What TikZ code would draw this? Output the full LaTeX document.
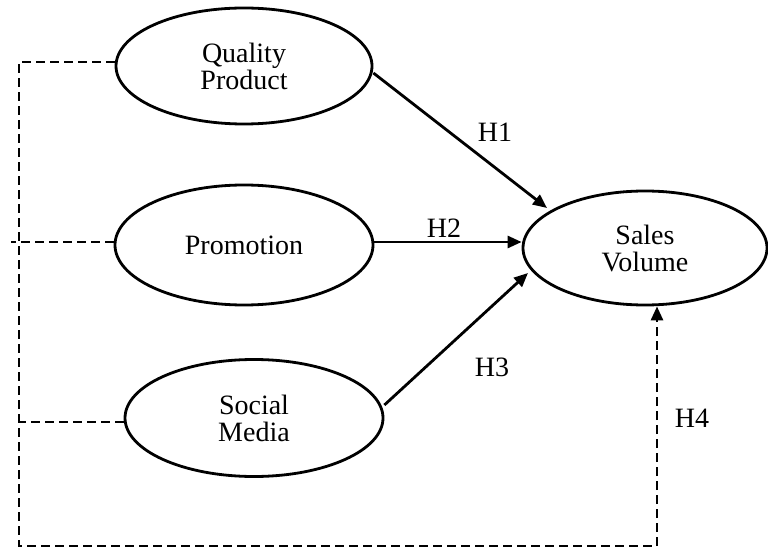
\documentclass[tikz,border=0pt]{standalone}
\usepackage{fontspec}
\setmainfont{Liberation Serif}
\usetikzlibrary{shapes.geometric,arrows.meta}
\begin{document}
\begin{tikzpicture}[x=1pt,y=-1pt,
  construct/.style={draw,ellipse,line width=2.8pt,inner sep=0pt,align=center,
    font=\fontsize{28}{27}\selectfont},
  solidarrow/.style={line width=2.8pt,-{Triangle[length=14pt,width=12pt]}},
  dashline/.style={line width=2.8pt,dash pattern=on 9pt off 5pt},
  hlabel/.style={font=\fontsize{28}{27}\selectfont,inner sep=0pt}]
\useasboundingbox (0,0) rectangle (768,548);
\node[construct,minimum width=256pt,minimum height=116pt] (qp) at (244,66) {Quality\\Product};
\node[construct,minimum width=258pt,minimum height=120pt] (pr) at (244,245) {Promotion};
\node[construct,minimum width=258pt,minimum height=117pt] (sm) at (254,418) {Social\\Media};
\node[construct,minimum width=244pt,minimum height=114pt] (sv) at (645,248) {Sales\\Volume};
% solid arrows
\coordinate (h2y) at (0,242);
\draw[solidarrow] (qp.east |- 0,73) -- (547,208) coordinate (h1end);
\draw[solidarrow] (pr.east |- h2y) -- (sv.west |- h2y);
\draw[solidarrow] (sm.east |- 0,405) -- (528,273);
% dashed frame
\coordinate (tl) at (19,62);
\coordinate (bl) at (19,546);
\coordinate (br) at (657,546);
\coordinate (pl) at (11,242);
\coordinate (sl) at (19,422);
\draw[dashline] (qp.west |- tl) -- (tl) -- (bl) -- (br);
\draw[dashline] (pr.west |- pl) -- (pl);
\draw[dashline] (sm.west |- sl) -- (sl);
\draw[dashline,-{Triangle[length=14pt,width=12pt]}] (br) -- (sv.south -| br);
% labels
\node[hlabel] (h1) at (495,132) {H1};
\node[hlabel] (h2) at (444,228) {H2};
\node[hlabel] (h3) at (492,367) {H3};
\node[hlabel] (h4) at (692,418) {H4};
\end{tikzpicture}
\end{document}
